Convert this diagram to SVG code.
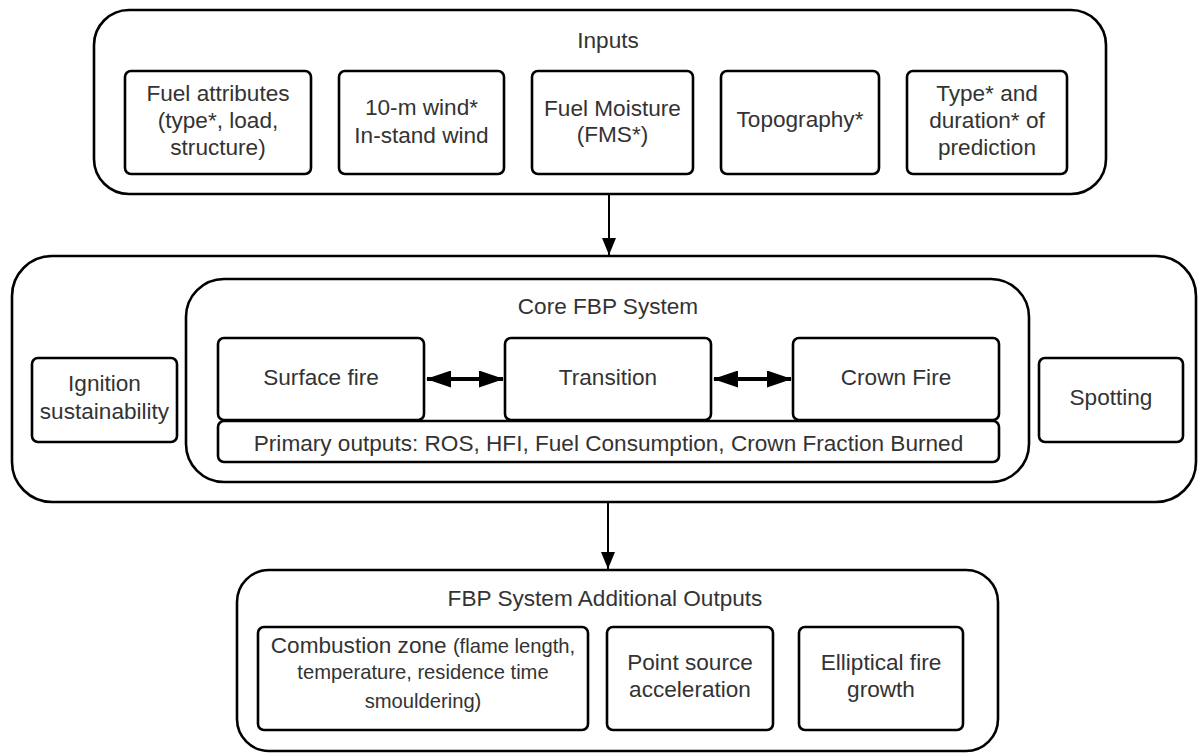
<svg xmlns="http://www.w3.org/2000/svg" width="1198" height="753" viewBox="0 0 1198 753">
<style>
.box{fill:#fff;stroke:#000;stroke-width:2.6}
.t{font-family:"Liberation Sans",Arial,sans-serif;font-size:22.6px;fill:#333;text-anchor:middle}
.s{font-size:20.2px}
.c{stroke:#000;stroke-width:2;fill:none}
.d{stroke:#000;stroke-width:4;fill:none}
</style>
<defs>
<marker id="ah" markerUnits="userSpaceOnUse" viewBox="0 0 17 14" refX="17" refY="7" markerWidth="17" markerHeight="14" orient="auto">
<path d="M0,0 L17,7 L0,14 Z" fill="#000"/>
</marker>
<marker id="dh" markerUnits="userSpaceOnUse" viewBox="0 0 25 17" refX="24" refY="8.5" markerWidth="25" markerHeight="17" orient="auto-start-reverse">
<path d="M0,0 L25,8.5 L0,17 Z" fill="#000"/>
</marker>
</defs>
<rect width="1198" height="753" fill="#fff"/>

<g id="inputs">
<rect class="box" x="94" y="10" width="1012" height="184" rx="35"/>
<text class="t" x="608" y="48">Inputs</text>
</g>
<g id="fuel-attributes">
<rect class="box" x="125" y="71" width="186" height="103" rx="6"/>
<text class="t" x="218" y="101">Fuel attributes</text>
<text class="t" x="218" y="128">(type*, load,</text>
<text class="t" x="218" y="155">structure)</text>
</g>
<g id="wind">
<rect class="box" x="339" y="71" width="165" height="103" rx="6"/>
<text class="t" x="421.5" y="115">10-m wind*</text>
<text class="t" x="421.5" y="143">In-stand wind</text>
</g>
<g id="fuel-moisture">
<rect class="box" x="532" y="71" width="161" height="103" rx="6"/>
<text class="t" x="612.5" y="116">Fuel Moisture</text>
<text class="t" x="612.5" y="142">(FMS*)</text>
</g>
<g id="topography">
<rect class="box" x="721" y="71" width="158" height="103" rx="6"/>
<text class="t" x="800" y="127">Topography*</text>
</g>
<g id="type-duration">
<rect class="box" x="907" y="71" width="160" height="103" rx="6"/>
<text class="t" x="987" y="101">Type* and</text>
<text class="t" x="987" y="128">duration* of</text>
<text class="t" x="987" y="155">prediction</text>
</g>

<g id="fbp-system">
<rect class="box" x="12" y="256" width="1184" height="246" rx="40"/>
</g>
<g id="core-fbp">
<rect class="box" x="186" y="279" width="843" height="203" rx="38"/>
<text class="t" x="608" y="314">Core FBP System</text>
</g>
<g id="surface-fire">
<rect class="box" x="218" y="338" width="206" height="82" rx="6"/>
<text class="t" x="321" y="385">Surface fire</text>
</g>
<g id="transition">
<rect class="box" x="505" y="338" width="206" height="82" rx="6"/>
<text class="t" x="608" y="385">Transition</text>
</g>
<g id="crown-fire">
<rect class="box" x="793" y="338" width="206" height="82" rx="6"/>
<text class="t" x="896" y="385">Crown Fire</text>
</g>
<g id="primary-outputs">
<rect class="box" x="218" y="421" width="781" height="41" rx="6"/>
<text class="t" x="608.5" y="451">Primary outputs: ROS, HFI, Fuel Consumption, Crown Fraction Burned</text>
</g>
<g id="ignition">
<rect class="box" x="32" y="358" width="145" height="84" rx="6"/>
<text class="t" x="104.5" y="391">Ignition</text>
<text class="t" x="104.5" y="419">sustainability</text>
</g>
<g id="spotting">
<rect class="box" x="1039" y="358" width="144" height="84" rx="6"/>
<text class="t" x="1111" y="405">Spotting</text>
</g>

<g id="additional-outputs">
<rect class="box" x="237" y="570" width="761" height="181" rx="32"/>
<text class="t" x="605" y="606">FBP System Additional Outputs</text>
</g>
<g id="combustion-zone">
<rect class="box" x="258" y="627" width="330" height="103" rx="6"/>
<text class="t" x="423" y="653">Combustion zone <tspan class="s">(flame length,</tspan></text>
<text class="t s" x="423" y="679">temperature, residence time</text>
<text class="t s" x="423" y="708">smouldering)</text>
</g>
<g id="point-source">
<rect class="box" x="607" y="627" width="166" height="103" rx="6"/>
<text class="t" x="690" y="670">Point source</text>
<text class="t" x="690" y="697">acceleration</text>
</g>
<g id="elliptical">
<rect class="box" x="799" y="627" width="164" height="103" rx="6"/>
<text class="t" x="881" y="670">Elliptical fire</text>
<text class="t" x="881" y="697">growth</text>
</g>

<g id="connectors">
<line class="c" x1="609" y1="195" x2="609" y2="255" marker-end="url(#ah)"/>
<line class="c" x1="608" y1="503" x2="608" y2="569" marker-end="url(#ah)"/>
<line class="d" x1="427" y1="379" x2="503" y2="379" marker-start="url(#dh)" marker-end="url(#dh)"/>
<line class="d" x1="714" y1="379" x2="791" y2="379" marker-start="url(#dh)" marker-end="url(#dh)"/>
</g>
</svg>
